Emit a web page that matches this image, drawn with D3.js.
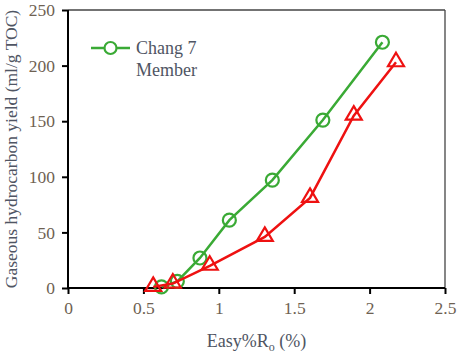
<!DOCTYPE html>
<html>
<head>
<meta charset="utf-8">
<script src="https://cdn.jsdelivr.net/npm/d3@7"></script>
<style>
  body { margin: 0; background: #fff; }
</style>
</head>
<body>
<div class="chart"></div>
<script>
// data
const greenX = [0.62, 0.725, 0.875, 1.07, 1.355, 1.69, 2.085];
const greenY = [1, 6, 27, 61, 97, 151, 221];
const redX = [0.565, 0.695, 0.94, 1.305, 1.605, 1.895, 2.175];
const redY = [1, 4, 20, 46, 81, 155, 203];
const xTicks = [0, 0.5, 1, 1.5, 2, 2.5];
const yTicks = [0, 50, 100, 150, 200, 250];
const legendLabel = ['Chang 7', 'Member'];

const FONT = '"Liberation Serif", "DejaVu Serif", "Times New Roman", serif';
const W = 457, H = 353;
const margin = { top: 10, right: 12, bottom: 65, left: 68 };
const width = W - margin.left - margin.right;
const height = H - margin.top - margin.bottom;

const GREEN = '#3aaa35', RED = '#ee1111';
const TICKCOL = '#6e6152', TEXTCOL = '#4f5563';

const root = d3.select('.chart').append('svg')
    .attr('width', W).attr('height', H)
    .attr('font-family', FONT);
const svg = root.append('g')
    .attr('transform', 'translate(' + margin.left + ',' + margin.top + ')');

const x = d3.scaleLinear().domain([0, 2.5]).range([0, width]);
const y = d3.scaleLinear().domain([0, 250]).range([height, 0]);

// frame: top/right thin
svg.append('line').attr('x1', 0).attr('x2', width).attr('y1', 0).attr('y2', 0)
    .attr('stroke', '#444').attr('stroke-width', 1.3);
svg.append('line').attr('x1', width).attr('x2', width).attr('y1', 0).attr('y2', height)
    .attr('stroke', '#444').attr('stroke-width', 1.3);

// axes
const xAxis = svg.append('g')
    .attr('transform', 'translate(0,' + height + ')')
    .call(d3.axisBottom(x).tickValues(xTicks).tickSize(6).tickPadding(8)
        .tickFormat(d => d));
const yAxis = svg.append('g')
    .call(d3.axisLeft(y).tickValues(yTicks).tickSize(6).tickPadding(7));

[xAxis, yAxis].forEach(a => {
    a.attr('font-family', FONT).attr('font-size', 17.5);
    a.select('.domain').attr('stroke', '#000').attr('stroke-width', 2);
    a.selectAll('.tick line').attr('stroke', '#000').attr('stroke-width', 2);
    a.selectAll('.tick text').attr('fill', TICKCOL);
});
// plain domain lines without outer ticks
xAxis.select('.domain').attr('d', 'M0,0H' + width);
yAxis.select('.domain').attr('d', 'M0,' + height + 'V0');

// axis titles
svg.append('text')
    .attr('transform', 'translate(' + (-51) + ',' + (height / 2) + ') rotate(-90)')
    .attr('text-anchor', 'middle')
    .attr('fill', TEXTCOL)
    .attr('font-size', 17.5)
    .text('Gaseous hydrocarbon yield (ml/g TOC)');

const xt = svg.append('text')
    .attr('x', width / 2)
    .attr('y', height + 59)
    .attr('text-anchor', 'middle')
    .attr('fill', TEXTCOL)
    .attr('font-size', 18);
xt.append('tspan').text('Easy%R');
xt.append('tspan').attr('dy', 4).attr('font-size', 12).text('o');
xt.append('tspan').attr('dy', -4).text(' (%)');

// lines
const greenData = greenX.map((v, i) => [v, greenY[i]]);
const redData = redX.map((v, i) => [v, redY[i]]);
const lineGen = d3.line().x(d => x(d[0])).y(d => y(d[1]));

svg.append('path').attr('d', lineGen(greenData))
    .attr('fill', 'none').attr('stroke', GREEN).attr('stroke-width', 2.5);
svg.selectAll('.gdot').data(greenData).enter().append('circle')
    .attr('class', 'gdot')
    .attr('cx', d => x(d[0])).attr('cy', d => y(d[1]))
    .attr('r', 6.5)
    .attr('fill', 'none').attr('stroke', GREEN).attr('stroke-width', 2.2);

svg.append('path').attr('d', lineGen(redData))
    .attr('fill', 'none').attr('stroke', RED).attr('stroke-width', 2.5);
svg.selectAll('.rdot').data(redData).enter().append('path')
    .attr('class', 'rdot')
    .attr('transform', d => 'translate(' + x(d[0]) + ',' + (y(d[1]) - 1) + ')')
    .attr('d', 'M0,-8.5L8,5L-8,5Z')
    .attr('fill', 'none').attr('stroke', RED).attr('stroke-width', 2.2)
    .attr('stroke-linejoin', 'miter');

// legend
const lg = svg.append('g').attr('transform', 'translate(23,38)');
lg.append('line').attr('x1', 0).attr('x2', 39).attr('y1', 0).attr('y2', 0)
    .attr('stroke', GREEN).attr('stroke-width', 2.5);
lg.append('circle').attr('cx', 19.5).attr('cy', 0).attr('r', 6)
    .attr('fill', '#fff').attr('stroke', GREEN).attr('stroke-width', 2.2);
lg.selectAll('text').data(legendLabel).enter().append('text')
    .attr('x', 45).attr('y', (d, i) => 6 + i * 22)
    .attr('fill', TEXTCOL)
    .attr('font-size', 18)
    .text(d => d);
</script>
</body>
</html>
